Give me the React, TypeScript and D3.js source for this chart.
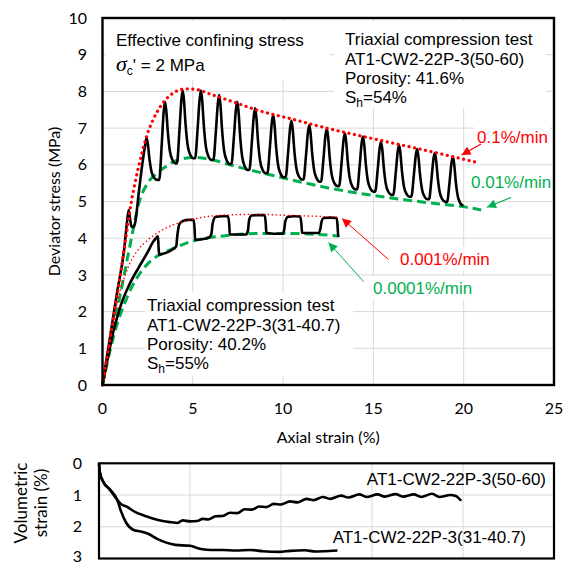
import React from "react";
import * as d3 from "d3";

// ---------- tick labels ----------
const xTicks = [0, 5, 10, 15, 20, 25];
const yTicks = [0, 1, 2, 3, 4, 5, 6, 7, 8, 9, 10];
const volTicks = [0, 1, 2, 3];

// ---------- sample AT1-CW2-22P-3(50-60): 0.1%/min <-> 0.01%/min ----------
const load1Strain = [0, 0.4, 0.8, 1.2, 1.36, 1.45, 1.52, 1.6, 1.7, 1.82, 2.0, 2.2, 2.35];
const load1Stress = [0, 1.25, 2.5, 3.7, 4.45, 4.77, 4.55, 4.33, 4.3, 4.45, 5.2, 6.0, 6.5];
const peakStrain = [2.44, 3.46, 4.44, 5.45, 6.46, 7.46, 8.45, 9.45, 10.46, 11.45, 12.42, 13.42, 14.42, 15.42, 16.42, 17.42, 18.4, 19.4];
const peakStress = [6.73, 7.72, 8.02, 8.02, 7.9, 7.72, 7.54, 7.36, 7.2, 7.08, 6.99, 6.86, 6.77, 6.63, 6.54, 6.43, 6.33, 6.22];
const troughStress = [5.59, 6.04, 6.18, 6.13, 6.02, 5.86, 5.77, 5.66, 5.6, 5.54, 5.42, 5.33, 5.27, 5.18, 5.13, 5.06, 4.99, 4.88];

// envelopes of sample 1
const red1Strain = [0, 0.4, 0.8, 1.2, 1.6, 2.0, 2.44, 3.0, 3.4, 4.0, 4.6, 5.2, 6.0, 7.2, 8.5, 10.7, 12.0, 14.0, 16.0, 18.2, 20.6];
const red1Stress = [0, 1.2, 2.4, 3.7, 5.0, 5.95, 6.77, 7.42, 7.72, 7.98, 8.07, 8.05, 7.92, 7.72, 7.5, 7.22, 7.05, 6.82, 6.6, 6.36, 6.08];
const green1Strain = [0, 0.5, 1.0, 1.5, 2.07, 2.5, 3.0, 3.5, 3.92, 4.5, 5.0, 5.6, 6.3, 7.2, 8.16, 9.5, 10.9, 12.5, 14.0, 15.5, 17.0, 18.5, 19.96, 20.97];
const green1Stress = [0, 1.25, 2.5, 3.75, 5.05, 5.5, 5.77, 5.95, 6.08, 6.17, 6.2, 6.18, 6.11, 5.98, 5.86, 5.7, 5.54, 5.37, 5.24, 5.13, 5.03, 4.94, 4.86, 4.77];

// ---------- sample AT1-CW2-22P-3(31-40.7): 0.001%/min <-> 0.0001%/min ----------
const curve2Strain = [0, 0.3, 0.6, 1.0, 1.5, 2.0, 2.5, 2.8, 3.0, 3.07, 3.1, 3.13, 3.5, 3.9, 4.08, 4.15, 4.25, 4.45, 4.8, 5.05, 5.1, 5.13, 5.5, 5.9, 6.02, 6.1, 6.25, 6.6, 6.95, 7.02, 7.05, 7.5, 7.95, 8.05, 8.12, 8.25, 8.6, 8.98, 9.04, 9.07, 9.5, 9.95, 10.05, 10.12, 10.25, 10.6, 10.95, 11.02, 11.05, 11.5, 11.98, 12.06, 12.13, 12.25, 12.6, 12.97, 13.02, 13.05, 13.1];
const curve2Stress = [0, 0.75, 1.45, 2.15, 2.75, 3.2, 3.62, 3.9, 4.02, 4.05, 3.8, 3.55, 3.6, 3.7, 3.78, 4.1, 4.38, 4.47, 4.5, 4.5, 4.25, 3.95, 3.97, 4.02, 4.1, 4.4, 4.58, 4.6, 4.6, 4.35, 4.1, 4.1, 4.1, 4.2, 4.5, 4.62, 4.63, 4.63, 4.4, 4.15, 4.12, 4.12, 4.2, 4.45, 4.58, 4.6, 4.59, 4.35, 4.15, 4.14, 4.14, 4.25, 4.45, 4.55, 4.56, 4.55, 4.3, 4.06, 4.08];
const red2Strain = [0, 0.5, 1.0, 1.5, 2.0, 2.5, 3.0, 3.9, 4.84, 6.7, 8.5, 10.4, 12.2, 13.05];
const red2Stress = [0, 1.5, 2.6, 3.3, 3.7, 3.95, 4.13, 4.36, 4.5, 4.63, 4.65, 4.62, 4.59, 4.57];
const green2Strain = [0, 0.4, 0.8, 1.15, 1.6, 2.07, 2.5, 3.0, 3.5, 3.92, 4.84, 5.7, 6.68, 8.53, 10.37, 11.7, 13.04];
const green2Stress = [0, 0.9, 1.65, 2.13, 2.65, 3.04, 3.3, 3.5, 3.63, 3.72, 3.9, 4.0, 4.06, 4.13, 4.13, 4.11, 4.06];

// ---------- volumetric strain ----------
const vol1Strain = [0, 0.05, 0.25, 0.6, 1.0, 1.2, 1.5, 2.0, 2.5, 3.0, 3.5, 4.0, 4.3, 4.6, 5.0, 5.4, 5.7, 6.0, 6.4, 6.8, 7.2, 7.6, 8.0, 8.4, 8.8, 9.2, 9.6, 10.0, 10.5, 10.9, 11.4, 11.8, 12.3, 12.7, 13.3, 13.7, 14.3, 14.7, 15.3, 15.7, 16.3, 16.7, 17.3, 17.7, 18.3, 18.7, 19.3, 19.6, 19.9];
const vol1Value = [0, 0.3, 0.6, 0.83, 1.15, 1.28, 1.36, 1.54, 1.65, 1.75, 1.82, 1.86, 1.88, 1.8, 1.83, 1.82, 1.75, 1.77, 1.67, 1.66, 1.56, 1.57, 1.45, 1.46, 1.36, 1.38, 1.28, 1.3, 1.2, 1.23, 1.12, 1.16, 1.06, 1.12, 1.02, 1.08, 0.98, 1.06, 0.98, 1.05, 0.97, 1.05, 0.98, 1.06, 0.96, 1.06, 1.0, 1.03, 1.18];
const vol2Strain = [0, 0.05, 0.25, 0.6, 1.0, 1.2, 1.5, 1.9, 2.3, 2.7, 3.2, 3.7, 4.2, 5.0, 5.6, 6.2, 6.8, 7.5, 8.3, 9.0, 9.9, 10.5, 11.3, 11.9, 12.4, 13.1];
const vol2Value = [0, 0.3, 0.6, 0.83, 1.15, 1.5, 1.88, 2.1, 2.15, 2.22, 2.38, 2.5, 2.57, 2.6, 2.7, 2.73, 2.73, 2.75, 2.73, 2.77, 2.79, 2.76, 2.74, 2.78, 2.77, 2.75];

type P = [number, number];
const zip = (a: number[], b: number[]): P[] => a.map((v, i) => [v, b[i]]);

// each load step: quick rise to the peak, then relaxation down to the trough
function buildCycles(load: P[], ps: number[], pv: number[], tv: number[]): P[] {
  const pts: P[] = [...load];
  for (let i = 0; i < ps.length; i++) {
    const xp = ps[i], p = pv[i], t = tv[i], d = p - t;
    pts.push(
      [xp, p],
      [xp + 0.07, t + 0.86 * d],
      [xp + 0.16, t + 0.5 * d],
      [xp + 0.27, t + 0.2 * d],
      [xp + 0.42, t + 0.05 * d],
      [xp + 0.58, t]
    );
    if (i < ps.length - 1) {
      const xn = ps[i + 1], pn = pv[i + 1], dn = pn - t;
      pts.push([xn - 0.32, t], [xn - 0.18, t + 0.45 * dn], [xn - 0.07, t + 0.88 * dn]);
    }
  }
  return pts;
}

const W = 563, H = 566;
const SANS = "'Liberation Sans', Arial, sans-serif";
const CAL = "Lato, 'Open Sans', sans-serif";
const RED = "#FF0000";
const GREEN = "#00B050";
const GRID = "#d9d9d9";

export default function App() {
  const x = d3.scaleLinear().domain([0, 25]).range([102.5, 554]);
  const y = d3.scaleLinear().domain([0, 10]).range([385, 18]);
  const xv = d3.scaleLinear().domain([0, 25]).range([99, 554]);
  const yv = d3.scaleLinear().domain([0, 3]).range([463.3, 558.5]);

  const line = d3.line<P>().x((d) => x(d[0])).y((d) => y(d[1])).curve(d3.curveMonotoneX);
  const lineV = d3.line<P>().x((d) => xv(d[0])).y((d) => yv(d[1])).curve(d3.curveMonotoneX);

  const c1 = buildCycles(zip(load1Strain, load1Stress), peakStrain, peakStress, troughStress);
  const c2 = zip(curve2Strain, curve2Stress);

  const [x0, x1] = x.range();
  const [y0, y1] = y.range();
  const [xv0, xv1] = xv.range();
  const [yv0, yv1] = yv.range();

  return (
    <svg width={W} height={H} style={{ position: "absolute", left: 0, top: 0, background: "#fff" }}>
      <defs>
        <marker id="ahR" viewBox="0 0 10 10" refX="10" refY="5" markerWidth="11" markerHeight="9" markerUnits="userSpaceOnUse" orient="auto">
          <path d="M0,0 L10,5 L0,10 z" fill={RED} />
        </marker>
        <marker id="ahG" viewBox="0 0 10 10" refX="10" refY="5" markerWidth="11" markerHeight="9" markerUnits="userSpaceOnUse" orient="auto">
          <path d="M0,0 L10,5 L0,10 z" fill={GREEN} />
        </marker>
      </defs>
      <rect x={0} y={0} width={W} height={H} fill="#fff" />

      {/* ---------- main plot grid ---------- */}
      {xTicks.slice(1, -1).map((t) => (
        <line key={"gx" + t} x1={x(t)} x2={x(t)} y1={y1} y2={y0} stroke={GRID} strokeWidth={1} />
      ))}
      {yTicks.slice(1, -1).map((t) => (
        <line key={"gy" + t} x1={x0} x2={x1} y1={y(t)} y2={y(t)} stroke={GRID} strokeWidth={1} />
      ))}

      {/* white label boxes */}
      <rect x={106} y={21} width={224} height={59} fill="#fff" />
      <rect x={334} y={21} width={212} height={87} fill="#fff" />
      <rect x={145} y={292} width={208} height={84} fill="#fff" />
      <rect x={474} y={125} width={76} height={24} fill="#fff" />
      <rect x={468} y={169} width={82} height={26} fill="#fff" />
      <rect x={397} y={247} width={94} height={24} fill="#fff" />
      <rect x={370} y={276} width={104} height={24} fill="#fff" />

      {/* curves */}
      <path d={line(zip(green2Strain, green2Stress)) || ""} fill="none" stroke={GREEN} strokeWidth={3} strokeDasharray="9 5" />
      <path d={line(zip(green1Strain, green1Stress)) || ""} fill="none" stroke={GREEN} strokeWidth={3} strokeDasharray="9 5" />
      <path d={line(c2) || ""} fill="none" stroke="#000" strokeWidth={2.6} strokeLinejoin="round" />
      <path d={line(c1) || ""} fill="none" stroke="#000" strokeWidth={2.6} strokeLinejoin="round" />
      <path d={line(zip(red2Strain, red2Stress)) || ""} fill="none" stroke={RED} strokeWidth={1.4} strokeDasharray="1.5 2.5" />
      <path d={line(zip(red1Strain, red1Stress)) || ""} fill="none" stroke={RED} strokeWidth={3.2} strokeDasharray="0.1 5.5" strokeLinecap="round" />

      {/* border */}
      <rect x={x0} y={y1} width={x1 - x0} height={y0 - y1} fill="none" stroke="#000" strokeWidth={2.4} />

      {/* tick labels */}
      {yTicks.map((t) => (
        <text key={"ty" + t} x={87} y={y(t)} dy="0.35em" textAnchor="end" fontFamily={CAL} fontSize={16} fill="#000">{t}</text>
      ))}
      {xTicks.map((t) => (
        <text key={"tx" + t} x={x(t)} y={408} dy="0.35em" textAnchor="middle" fontFamily={CAL} fontSize={16} fill="#000">{t}</text>
      ))}
      <text x={(x0 + x1) / 2} y={437} dy="0.35em" textAnchor="middle" fontFamily={CAL} fontSize={16} fill="#000">Axial strain (%)</text>
      <text transform={`translate(54,${(y0 + y1) / 2}) rotate(-90)`} dy="0.35em" textAnchor="middle" fontFamily={CAL} fontSize={16} fill="#000">Deviator stress (MPa)</text>

      {/* annotations */}
      <text x={116} y={45.5} fontFamily={SANS} fontSize={17} fill="#000">Effective confining stress</text>
      <text x={116} y={71} fontFamily={SANS} fontSize={17} fill="#000">
        <tspan fontFamily="'Liberation Serif', 'Times New Roman', serif" fontStyle="italic" fontSize={22}>σ</tspan>
        <tspan fontSize={12} dy={4}>c</tspan>
        <tspan dy={-4}>' = 2 MPa</tspan>
      </text>

      <text x={345} y={44.5} fontFamily={SANS} fontSize={17} fill="#000">Triaxial compression test</text>
      <text x={345} y={64.5} fontFamily={SANS} fontSize={17} fill="#000">AT1-CW2-22P-3(50-60)</text>
      <text x={345} y={83.8} fontFamily={SANS} fontSize={17} fill="#000">Porosity: 41.6%</text>
      <text x={345} y={102.8} fontFamily={SANS} fontSize={17} fill="#000">
        <tspan>S</tspan><tspan fontSize={12} dy={4}>h</tspan><tspan dy={-4}>=54%</tspan>
      </text>

      <text x={147} y={311} fontFamily={SANS} fontSize={17} fill="#000">Triaxial compression test</text>
      <text x={147} y={331} fontFamily={SANS} fontSize={17} fill="#000">AT1-CW2-22P-3(31-40.7)</text>
      <text x={147} y={350.3} fontFamily={SANS} fontSize={17} fill="#000">Porosity: 40.2%</text>
      <text x={147} y={369.3} fontFamily={SANS} fontSize={17} fill="#000">
        <tspan>S</tspan><tspan fontSize={12} dy={4}>h</tspan><tspan dy={-4}>=55%</tspan>
      </text>

      <text x={477} y={143} fontFamily={SANS} fontSize={17} fill={RED}>0.1%/min</text>
      <text x={471} y={188} fontFamily={SANS} fontSize={17} fill={GREEN}>0.01%/min</text>
      <text x={400} y={265} fontFamily={SANS} fontSize={17} fill={RED}>0.001%/min</text>
      <text x={373} y={294} fontFamily={SANS} fontSize={17} fill={GREEN}>0.0001%/min</text>

      <line x1={481} y1={144} x2={461.5} y2={155} stroke={RED} strokeWidth={1.2} markerEnd="url(#ahR)" />
      <line x1={511} y1={197.5} x2={487} y2={207.3} stroke={GREEN} strokeWidth={1.2} markerEnd="url(#ahG)" />
      <line x1={388.5} y1={259.5} x2={342} y2={218.5} stroke={RED} strokeWidth={1} markerEnd="url(#ahR)" />
      <line x1={363.5} y1={281.5} x2={328.5} y2={242.5} stroke={GREEN} strokeWidth={1} markerEnd="url(#ahG)" />

      {/* ---------- volumetric plot ---------- */}
      {xTicks.slice(1, -1).map((t) => (
        <line key={"vgx" + t} x1={xv(t)} x2={xv(t)} y1={yv0} y2={yv1} stroke={GRID} strokeWidth={1} />
      ))}
      {volTicks.slice(1, -1).map((t) => (
        <line key={"vgy" + t} x1={xv0} x2={xv1} y1={yv(t)} y2={yv(t)} stroke={GRID} strokeWidth={1} />
      ))}
      <path d={lineV(zip(vol2Strain, vol2Value)) || ""} fill="none" stroke="#000" strokeWidth={2.6} strokeLinejoin="round" />
      <path d={lineV(zip(vol1Strain, vol1Value)) || ""} fill="none" stroke="#000" strokeWidth={2.6} strokeLinejoin="round" />
      <rect x={xv0} y={yv0} width={xv1 - xv0} height={yv1 - yv0} fill="none" stroke="#000" strokeWidth={2.2} />
      {volTicks.map((t) => (
        <text key={"tv" + t} x={82} y={Math.min(yv(t), 556)} dy="0.35em" textAnchor="end" fontFamily={CAL} fontSize={16} fill="#000">{t}</text>
      ))}
      <text transform="translate(21,503) rotate(-90)" dy="0.35em" textAnchor="middle" fontFamily={CAL} fontSize={17} fill="#000">Volumetric</text>
      <text transform="translate(41.5,503) rotate(-90)" dy="0.35em" textAnchor="middle" fontFamily={CAL} fontSize={17} fill="#000">strain (%)</text>
      <text x={546} y={485} textAnchor="end" fontFamily={SANS} fontSize={17} fill="#000">AT1-CW2-22P-3(50-60)</text>
      <text x={526} y={543} textAnchor="end" fontFamily={SANS} fontSize={17} fill="#000">AT1-CW2-22P-3(31-40.7)</text>
    </svg>
  );
}
